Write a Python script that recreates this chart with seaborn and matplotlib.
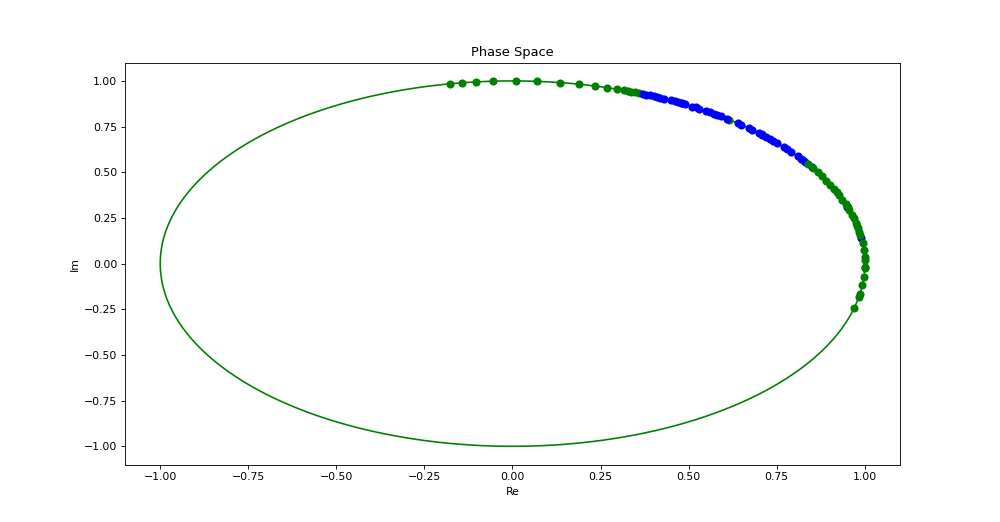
import numpy as np
import pandas as pd
import matplotlib
matplotlib.use("Agg")
import matplotlib.pyplot as plt
import seaborn as sns

# phase angles (degrees) of the points
green_top_deg = [100.2, 98.2, 95.9, 93.2, 89.5, 86.0, 82.2, 79.2, 76.4, 74.4,
                 72.7, 71.6, 70.9, 70.3, 69.6, 69.0, 61.5, 52.0, 45.0, 34.5]
blue_deg = [68.3, 67.7, 67.0, 66.4, 65.8, 65.2, 64.5, 63.3, 62.6, 62.0, 61.3,
            60.7, 59.3, 58.7, 58.0, 56.6, 55.9, 55.2, 54.5, 53.8, 52.4, 50.2,
            49.5, 47.9, 47.2, 45.6, 44.8, 43.9, 43.1, 42.3, 41.4, 39.6, 38.7,
            37.8, 35.9, 34.9, 33.9, 31.8, 18.2, 8.1]
green_side_deg = [33.0, 31.5, 30.0, 28.5, 27.0, 25.5, 24.0, 23.0, 22.0, 20.5,
                  19.0, 18.0, 17.0, 15.5, 14.5, 13.0, 12.0, 11.2, 10.0, 9.0,
                  6.4, 4.3, 2.1, 1.1, -1.1, -1.4, -4.3, -6.8, -9.6, -10.6, -14.1]


def to_frame(deg):
    ph = np.deg2rad(np.asarray(deg))
    return pd.DataFrame({"Re": np.cos(ph), "Im": np.sin(ph)})


# unit circle
t = np.linspace(0, 2 * np.pi, 400)
circle = pd.DataFrame({"Re": np.cos(t), "Im": np.sin(t)})

# big figure at low dpi -> 1000x522 px with small text, like the original
fig, ax = plt.subplots(figsize=(12.8, 6.6816), dpi=78.125)
sns.lineplot(data=circle, x="Re", y="Im", sort=False, estimator=None,
             color="g", linewidth=1.5, ax=ax)
sns.scatterplot(data=to_frame(green_top_deg), x="Re", y="Im", color="g",
                s=56, linewidth=0, zorder=3, ax=ax)
sns.scatterplot(data=to_frame(blue_deg), x="Re", y="Im", color="b",
                s=56, linewidth=0, zorder=3, ax=ax)
sns.scatterplot(data=to_frame(green_side_deg), x="Re", y="Im", color="g",
                s=56, linewidth=0, zorder=3, ax=ax)

ax.set_title("Phase Space")
ax.set_xlabel("Re")
ax.set_ylabel("Im")

fig.savefig("out.png", dpi=78.125)
